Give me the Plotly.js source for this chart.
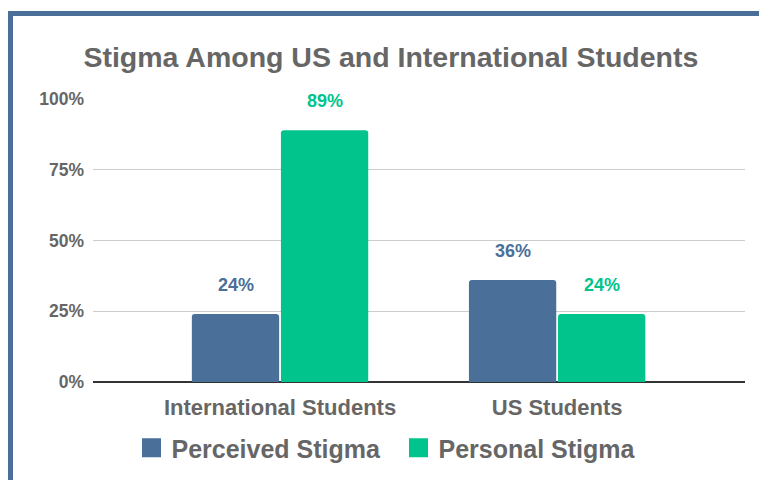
<!DOCTYPE html>
<html>
<head>
<meta charset="utf-8">
<script src="https://cdn.plot.ly/plotly-3.0.1.min.js"></script>
<style>
  html, body { margin: 0; padding: 0; background: #fff; }
  #wrap { position: relative; width: 759px; height: 480px; overflow: hidden; }
  #chart { width: 759px; height: 480px; }
  #frame { position: absolute; left: 8px; top: 11px; right: 0; bottom: 0;
           border-top: 5px solid #4a6f98; border-left: 5px solid #4a6f98;
           pointer-events: none; }
</style>
</head>
<body>
<div id="wrap">
  <div id="chart"></div>
  <div id="frame"></div>
</div>
<script>
// ---- data ----
const categories = ["International Students", "US Students"];
const seriesNames = ["Perceived Stigma", "Personal Stigma"];
const perceivedStigma = [24, 36];
const personalStigma = [89, 24];
const yTickValues = [0, 25, 50, 75, 100];
const yTickLabels = ["0%", "25%", "50%", "75%", "100%"];

// ---- styles ----
const colors = ["#4a6f98", "#00c48c"];
const FONT = "Liberation Sans, Arial, sans-serif";
const GRAY = "#666666";
const seriesValues = [perceivedStigma, personalStigma];

const traces = [];
seriesValues.forEach((vals, i) => {
  traces.push({
    type: "bar",
    x: categories,
    y: vals,
    name: seriesNames[i],
    showlegend: false,
    marker: { color: colors[i], cornerradius: 3 },
    hoverinfo: "none"
  });
});
// legend proxies (bigger squares)
seriesValues.forEach((vals, i) => {
  traces.push({
    type: "scatter",
    mode: "markers",
    x: [null],
    y: [null],
    name: seriesNames[i],
    marker: { symbol: "square", size: 16, color: colors[i], line: { color: colors[i], width: 3 } },
    hoverinfo: "none"
  });
});

const annotations = [];
seriesValues.forEach((vals, i) => {
  vals.forEach((v, j) => {
    annotations.push({
      x: categories[j],
      y: v,
      xref: "x",
      yref: "y",
      text: v + "%",
      showarrow: false,
      xshift: (i === 0 ? -1 : 1) * 44.5,
      yshift: 29,
      yanchor: "middle",
      font: { family: FONT, size: 18, color: colors[i], weight: "bold" }
    });
  });
});

const layout = {
  width: 759,
  height: 480,
  paper_bgcolor: "#ffffff",
  plot_bgcolor: "#ffffff",
  margin: { l: 93, r: 14, t: 99, b: 98, pad: 0 },
  font: { family: FONT, color: GRAY },
  title: {
    text: "Stigma Among US and International Students",
    font: { family: FONT, size: 28.5, color: GRAY, weight: "bold" },
    xref: "container",
    x: 0.515,
    xanchor: "center",
    yref: "container",
    y: 1 - 57 / 480,
    yanchor: "middle"
  },
  barmode: "group",
  bargap: 0.357,
  bargroupgap: 0.02,
  xaxis: {
    type: "category",
    range: [-0.675, 1.678],
    showgrid: false,
    showline: false,
    zeroline: false,
    ticks: "",
    ticklabelstandoff: 10,
    tickfont: { family: FONT, size: 22, color: GRAY, weight: "bold" },
    fixedrange: true
  },
  yaxis: {
    range: [0, 100],
    tickvals: yTickValues,
    ticktext: yTickLabels,
    showgrid: true,
    gridcolor: "#cccccc",
    gridwidth: 1,
    zeroline: true,
    zerolinecolor: "#333333",
    zerolinewidth: 2,
    showline: false,
    ticks: "",
    ticklabelstandoff: 8,
    tickfont: { family: FONT, size: 17.5, color: GRAY, weight: "bold" },
    fixedrange: true
  },
  legend: {
    orientation: "h",
    xref: "container",
    yref: "container",
    x: 0.525,
    xanchor: "center",
    y: 1 - 448 / 480,
    yanchor: "middle",
    entrywidth: 222,
    entrywidthmode: "pixels",
    font: { family: FONT, size: 25, color: GRAY, weight: "bold" },
    itemclick: false,
    itemdoubleclick: false
  },
  annotations: annotations,
  showlegend: true
};

Plotly.newPlot("chart", traces, layout, { staticPlot: true, displayModeBar: false });
</script>
</body>
</html>
